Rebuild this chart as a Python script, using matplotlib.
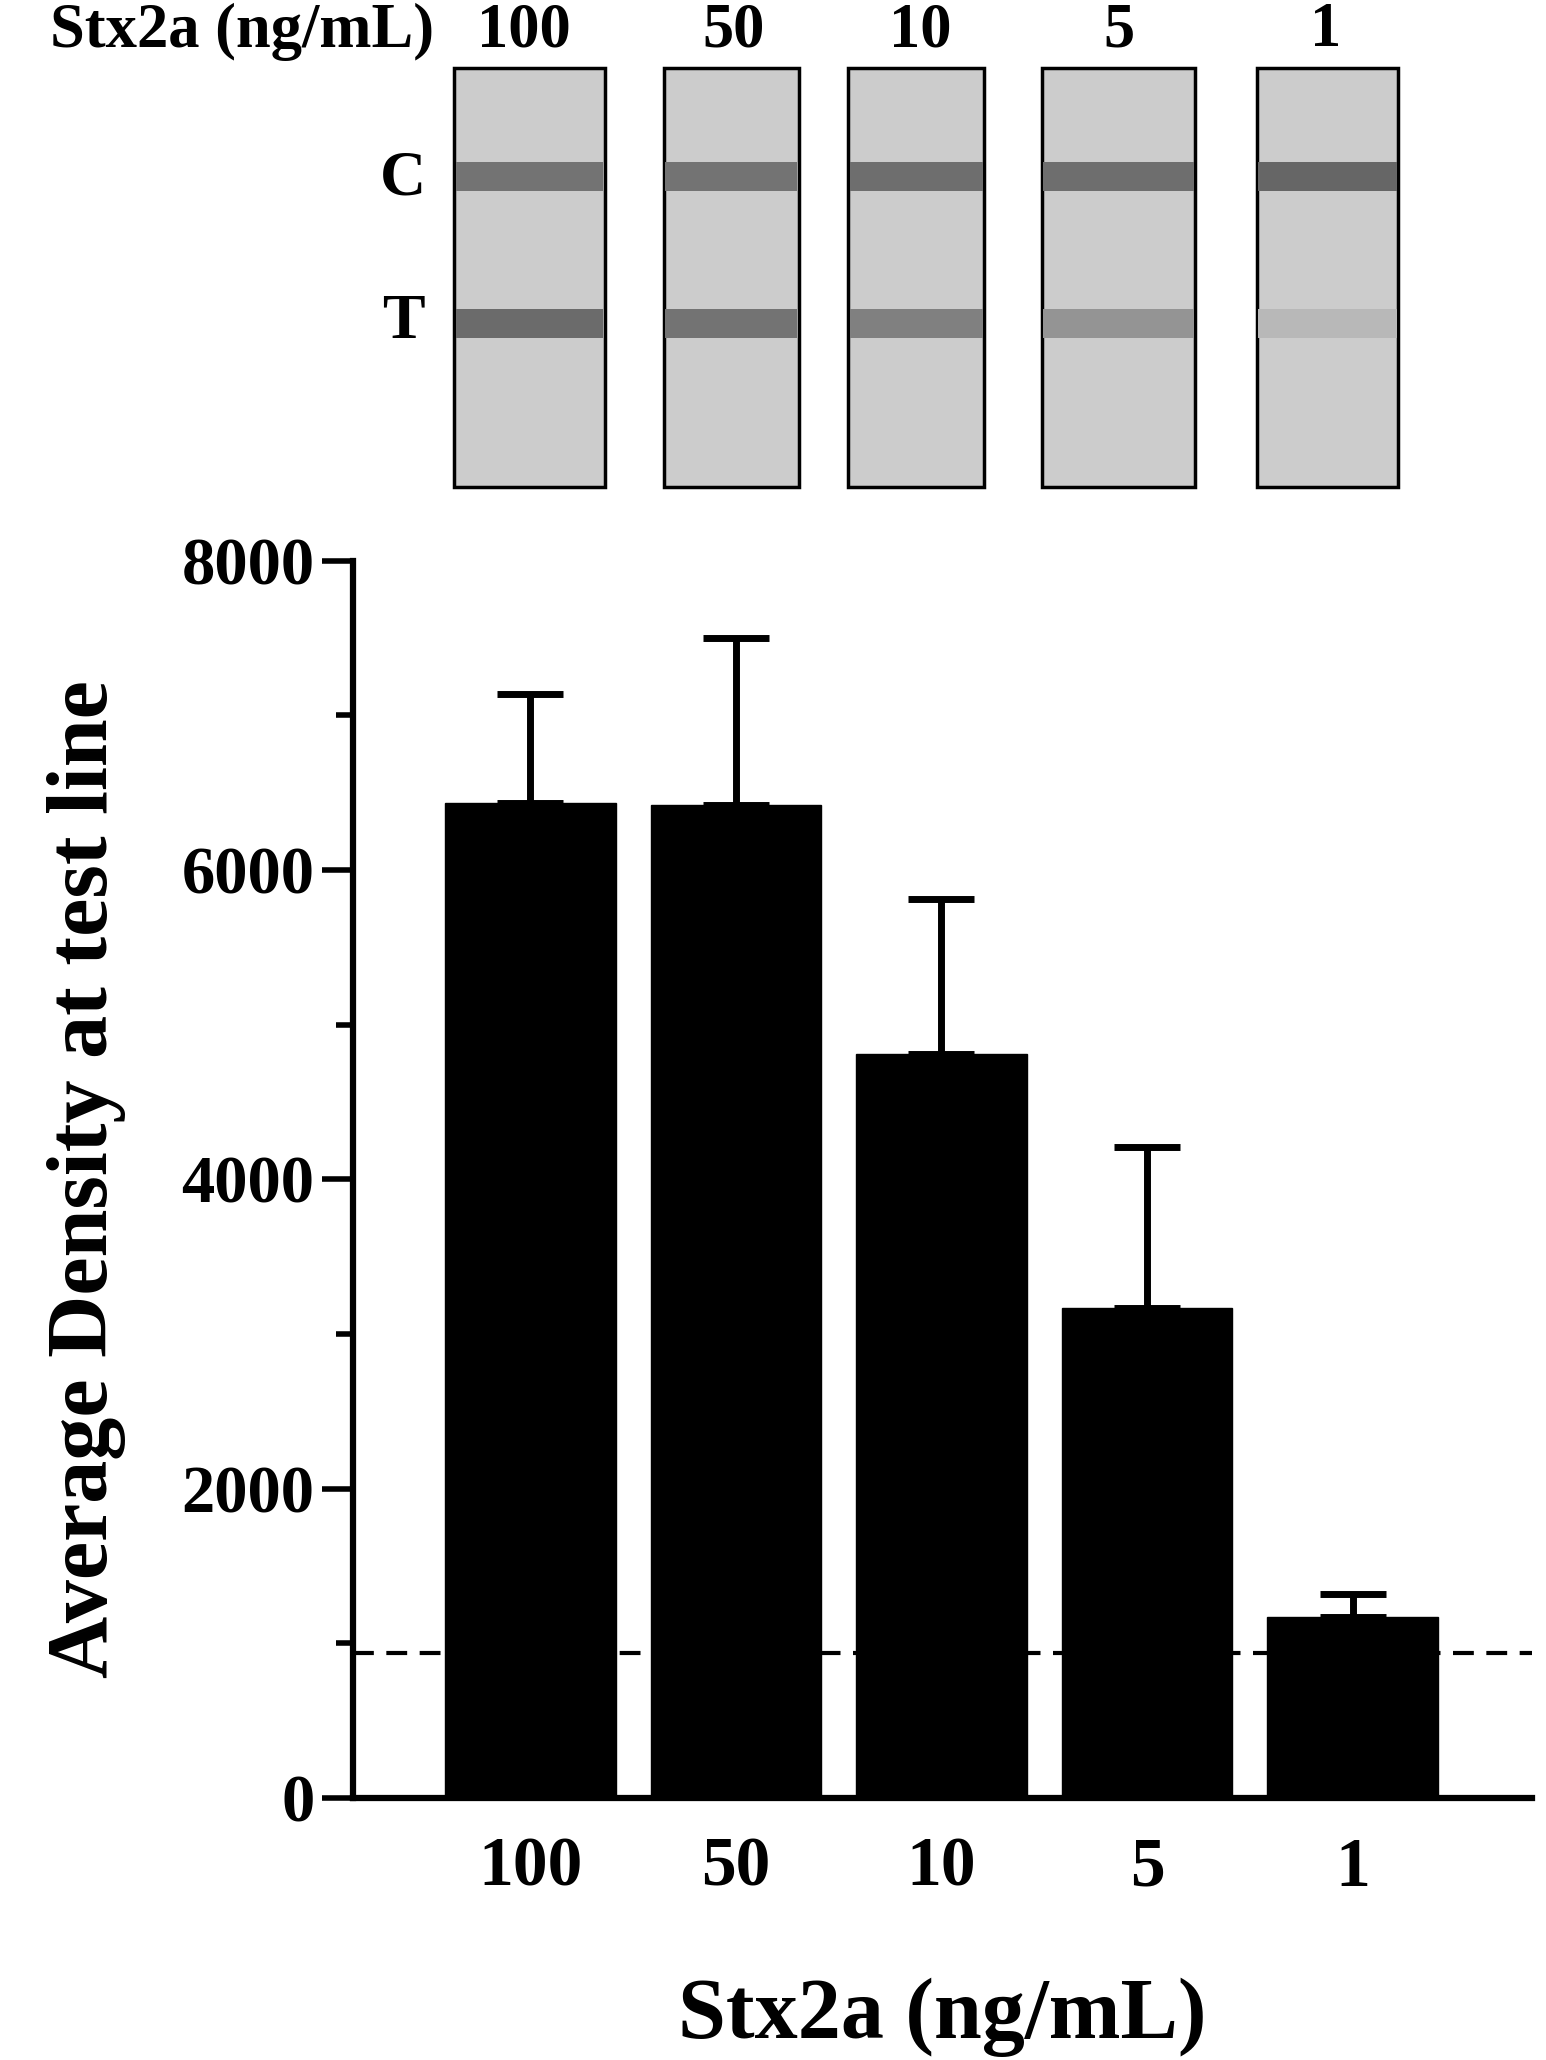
import matplotlib
matplotlib.use("Agg")
import matplotlib.pyplot as plt
from matplotlib.patches import Rectangle
import numpy as np

categories = ["100", "50", "10", "5", "1"]
means = [6435, 6420, 4810, 3167, 1168]
err_up = [700, 1080, 1005, 1040, 150]
cutoff = 940
t_band_gray = [0.42, 0.45, 0.50, 0.58, 0.72]
c_band_gray = [0.45, 0.45, 0.43, 0.43, 0.40]

plt.rcParams['font.family'] = ['Liberation Serif', 'DejaVu Serif']
plt.rcParams['font.weight'] = 'bold'

W, H = 1181, 1573
fig = plt.figure(figsize=(15.46, 20.6), dpi=100)

ov = fig.add_axes([0, 0, 1, 1])
ov.set_xlim(0, W); ov.set_ylim(H, 0); ov.axis('off')
strips = [(347, 462), (507, 610), (648, 752), (796, 913), (960, 1068)]
for (x0, x1), cg, tg in zip(strips, c_band_gray, t_band_gray):
    ov.add_patch(Rectangle((x0, 52), x1 - x0, 320, facecolor='0.80', edgecolor='black', lw=2.5))
    ov.add_patch(Rectangle((x0 + 1, 124), x1 - x0 - 2, 22, facecolor=str(cg), edgecolor='none'))
    ov.add_patch(Rectangle((x0 + 1, 236), x1 - x0 - 2, 22, facecolor=str(tg), edgecolor='none'))
ov.text(308, 137, "C", fontsize=46, ha='center', va='center', fontweight='bold')
ov.text(308, 247, "T", fontsize=46, ha='center', va='center', fontweight='bold')
ov.text(38, 24, "Stx2a (ng/mL)", fontsize=45, ha='left', va='center', fontweight='bold')
for lab, xc in zip(categories, [400, 560, 703, 855, 1013]):
    ov.text(xc, 24, lab, fontsize=45, ha='center', va='center', fontweight='bold')

ax = fig.add_axes([270 / W, 1 - 1373 / H, (1170 - 270) / W, (1373 - 428) / H])
x = np.arange(len(categories))
ax.bar(x, means, width=0.83, color='black', edgecolor='black', zorder=2)
ax.errorbar(x, means, yerr=[np.zeros(len(means)), err_up], fmt='none', ecolor='black',
            elinewidth=5, capsize=24, capthick=5, zorder=3)
ax.axhline(cutoff, color='black', ls=(0, (5, 3)), lw=3, zorder=1)
ax.set_xlim(-0.86, 4.87)
ax.set_ylim(0, 8000)
ax.set_yticks([0, 2000, 4000, 6000, 8000])
ax.set_yticks([1000, 3000, 5000, 7000], minor=True)
ax.set_xticks(x)
ax.set_xticklabels(categories)
ax.tick_params(axis='x', length=0, pad=28, labelsize=50)
ax.tick_params(axis='y', which='major', length=22, width=4, labelsize=48, pad=6)
ax.tick_params(axis='y', which='minor', length=12, width=4)
for t in ax.get_xticklabels() + ax.get_yticklabels():
    t.set_fontweight('bold')
for s in ['top', 'right']:
    ax.spines[s].set_visible(False)
for s in ['left', 'bottom']:
    ax.spines[s].set_linewidth(4.5)
ax.set_ylabel("Average Density at test line", fontsize=62, fontweight='bold', labelpad=40)
ax.set_xlabel("Stx2a (ng/mL)", fontsize=62, fontweight='bold', labelpad=55)

fig.savefig("out.png", dpi=100)
